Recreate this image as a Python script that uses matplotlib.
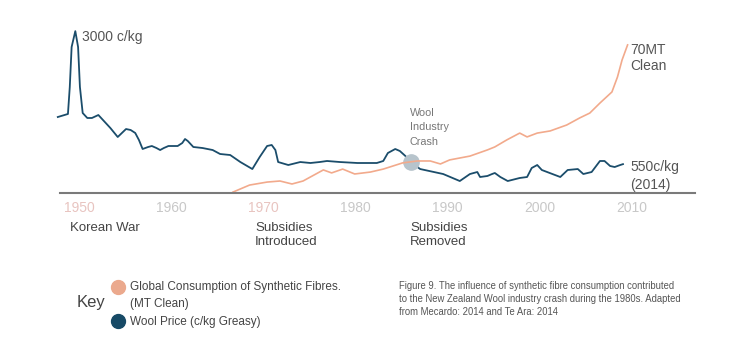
import matplotlib.pyplot as plt

plt.rcParams['font.family'] = ['Liberation Sans', 'DejaVu Sans']

# wool price, c/kg greasy
wool_years = [1947.7, 1948.8, 1949.0, 1949.2, 1949.6, 1949.9, 1950.1, 1950.4, 1950.9, 1951.4,
              1952.1, 1952.6, 1953.4, 1954.2, 1955.1, 1955.6, 1956.1, 1956.5, 1956.9, 1957.5,
              1957.9, 1958.4, 1958.8, 1959.2, 1959.7, 1960.7, 1961.2, 1961.5, 1961.8, 1962.4,
              1963.4, 1964.5, 1965.3, 1966.4, 1967.5, 1968.8, 1969.6, 1970.4, 1970.9, 1971.3,
              1971.6, 1972.7, 1974.0, 1975.1, 1976.1, 1976.9, 1978.3, 1980.2, 1982.3, 1983.0,
              1983.5, 1984.3, 1984.8, 1985.4, 1986.0, 1987.0, 1989.5, 1991.3, 1992.4, 1993.2,
              1993.5, 1994.3, 1994.8, 1995.1, 1995.7, 1996.5, 1997.8, 1998.6, 1999.1, 1999.7,
              2000.2, 2002.2, 2003.0, 2004.1, 2004.7, 2005.6, 2006.5, 2007.0, 2007.6, 2008.1,
              2008.7, 2009.0]
wool_price = [1418, 1474, 1971, 2708, 3000, 2708, 1971, 1492, 1400, 1400,
              1455, 1363, 1216, 1050, 1197, 1179, 1124, 995, 829, 866,
              884, 847, 810, 847, 884, 884, 939, 1013, 976, 866,
              847, 810, 737, 718, 589, 460, 682, 884, 903, 810,
              589, 534, 589, 571, 589, 608, 589, 571, 571, 608,
              755, 829, 792, 700, 589, 460, 368, 239, 368, 405,
              313, 332, 368, 387, 313, 239, 295, 313, 479, 534,
              442, 313, 442, 460, 368, 405, 608, 608, 516, 497,
              534, 550]

# global synthetic fibre consumption, MT clean
syn_years = [1966.7, 1968.5, 1970.4, 1971.8, 1973.1, 1974.3, 1976.5, 1977.4, 1978.6, 1979.9,
             1981.6, 1983.0, 1985.1, 1986.7, 1988.1, 1989.2, 1990.2, 1992.4, 1994.3, 1995.1,
             1996.4, 1997.8, 1998.6, 1999.7, 2001.1, 2002.9, 2004.3, 2005.4, 2006.5, 2007.8,
             2008.4, 2008.9, 2009.5]
syn_mt = [0.9, 4.2, 5.6, 6.1, 4.7, 6.1, 11.3, 9.9, 11.7, 9.4,
          10.3, 11.7, 14.6, 15.5, 15.5, 14.1, 16.0, 17.8, 20.7, 22.1,
          25.4, 28.6, 26.8, 28.6, 29.6, 32.4, 35.7, 38.0, 42.7, 47.9,
          54.9, 62.9, 70.0]

tick_years = [1950, 1960, 1970, 1980, 1990, 2000, 2010]
tick_colors = ['#e8c4c0', '#c8c8c8', '#e8c4c0', '#c8c8c8', '#c8c8c8', '#c8c8c8', '#c8c8c8']

crash_year = 1986.0
crash_price = 589

W, H = 740, 342
NAVY = '#1b4d6b'
ORANGE = '#f2aa8c'

fig = plt.figure(figsize=(W / 100, H / 100), dpi=100)


def fx(px):
    return px / W


def fy(py):
    return 1 - py / H


ax = fig.add_axes([0, fy(194), 1, 194 / H])
ax.set_xlim(1950 - 79 / 9.22, 1950 + (W - 79) / 9.22)
ax.set_ylim(0, 194 * 18.42)
ax.axis('off')
ax2 = ax.twinx()
ax2.set_ylim(0, 194 / 2.13)
ax2.axis('off')

ax2.plot(syn_years, syn_mt, color=ORANGE, lw=1.2, solid_joinstyle='round')
ax.plot(wool_years, wool_price, color=NAVY, lw=1.3, solid_joinstyle='round', zorder=3)
ax.plot([crash_year], [crash_price], 'o', color='#b7c4cc', ms=11, zorder=4)

# axis baseline
fig.add_artist(plt.Line2D([fx(60), fx(695)], [fy(193), fy(193)], color='#7a7a7a', lw=1.5))

for yr, c in zip(tick_years, tick_colors):
    xp = 79 + (yr - 1950) * 9.22
    fig.text(fx(xp), fy(208), str(yr), color=c, fontsize=10, ha='center', va='center')

txt = '#444444'
fig.text(fx(82), fy(37), '3000 c/kg', color='#555555', fontsize=10, va='center')
fig.text(fx(630), fy(43), '70MT\nClean', color='#555555', fontsize=10, va='top', linespacing=1.15)
fig.text(fx(630), fy(160), '550c/kg\n(2014)', color='#555555', fontsize=10, va='top', linespacing=1.35)
fig.text(fx(410), fy(108), 'Wool\nIndustry\nCrash', color='#777777', fontsize=7.8, va='top',
         linespacing=1.55)

fig.text(fx(70), fy(228), 'Korean War', color=txt, fontsize=9.5, va='center')
fig.text(fx(255), fy(222), 'Subsidies\nIntroduced', color=txt, fontsize=9.5, va='top', linespacing=1.25)
fig.text(fx(410), fy(222), 'Subsidies\nRemoved', color=txt, fontsize=9.5, va='top', linespacing=1.25)

# key
fig.text(fx(77), fy(303), 'Key', color=txt, fontsize=12, va='center')
fig.add_artist(plt.Line2D([fx(118)], [fy(287)], marker='o', ms=10, color='#eba98d'))
fig.add_artist(plt.Line2D([fx(118)], [fy(321)], marker='o', ms=10, color='#174a66'))
fig.text(fx(130), fy(281), 'Global Consumption of Synthetic Fibres.\n(MT Clean)', color=txt,
         fontsize=8.5, va='top', linespacing=1.5)
fig.text(fx(130), fy(322), 'Wool Price (c/kg Greasy)', color=txt, fontsize=8.5, va='center')

fig.text(fx(399), fy(281), 'Figure 9. The influence of synthetic fibre consumption contributed\n'
         'to the New Zealand Wool industry crash during the 1980s. Adapted\n'
         'from Mecardo: 2014 and Te Ara: 2014', color='#555555', fontsize=6.85, va='top',
         linespacing=1.37, family=['Liberation Sans Narrow', 'Liberation Sans'])

fig.savefig('out.png', dpi=100, facecolor='white')
